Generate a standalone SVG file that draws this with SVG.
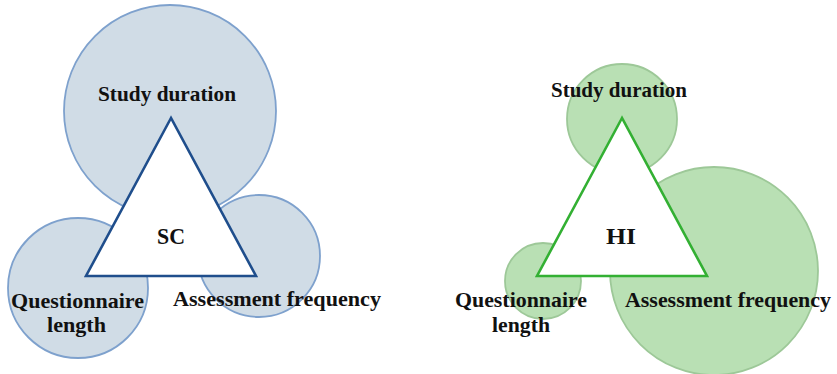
<svg xmlns="http://www.w3.org/2000/svg" width="837" height="374" viewBox="0 0 837 374">
<style>
.cb{fill:#d0dce6;stroke:#7ea1cd;stroke-width:1.8}
.cg{fill:#b9e0b4;stroke:#9dc898;stroke-width:1.8}
.tb{fill:#ffffff;stroke:#1f4e8c;stroke-width:2.6;stroke-linejoin:miter}
.tg{fill:#ffffff;stroke:#33b033;stroke-width:2.6;stroke-linejoin:miter}
text{font-family:'Liberation Serif','DejaVu Serif',serif;font-weight:bold;font-size:21px;fill:#111111}
.big{font-size:24px}
</style>
<rect width="837" height="374" fill="#ffffff"/>
<g id="sc-study-duration"><circle class="cb" cx="170" cy="111" r="106"/></g>
<g id="sc-questionnaire-length"><circle class="cb" cx="78" cy="288" r="70"/></g>
<g id="sc-assessment-frequency"><circle class="cb" cx="259" cy="256" r="61"/></g>
<g id="sc"><polygon class="tb" points="171,118 86,276 256,276"/></g>
<g id="hi-study-duration"><circle class="cg" cx="622" cy="119" r="55"/></g>
<g id="hi-questionnaire-length"><circle class="cg" cx="543" cy="281" r="38"/></g>
<g id="hi-assessment-frequency"><circle class="cg" cx="714" cy="271" r="104"/></g>
<g id="hi"><polygon class="tg" points="622,118 537,276 707,276"/></g>
<g id="connectors"></g>
<g id="labels" font-family="Liberation Serif, DejaVu Serif, serif">
<text x="98" y="101" textLength="138" lengthAdjust="spacingAndGlyphs">Study duration</text>
<text class="big" x="157" y="244" textLength="28" lengthAdjust="spacingAndGlyphs">SC</text>
<text x="11" y="308" textLength="133" lengthAdjust="spacingAndGlyphs">Questionnaire</text>
<text x="47" y="332" textLength="59" lengthAdjust="spacingAndGlyphs">length</text>
<text x="173" y="306" textLength="208" lengthAdjust="spacingAndGlyphs">Assessment frequency</text>
<text x="551" y="97" textLength="136" lengthAdjust="spacingAndGlyphs">Study duration</text>
<text class="big" x="606" y="244" textLength="30" lengthAdjust="spacingAndGlyphs">HI</text>
<text x="455" y="307" textLength="132" lengthAdjust="spacingAndGlyphs">Questionnaire</text>
<text x="492" y="332" textLength="58" lengthAdjust="spacingAndGlyphs">length</text>
<text x="625" y="307" textLength="206" lengthAdjust="spacingAndGlyphs">Assessment frequency</text>
</g>
</svg>
